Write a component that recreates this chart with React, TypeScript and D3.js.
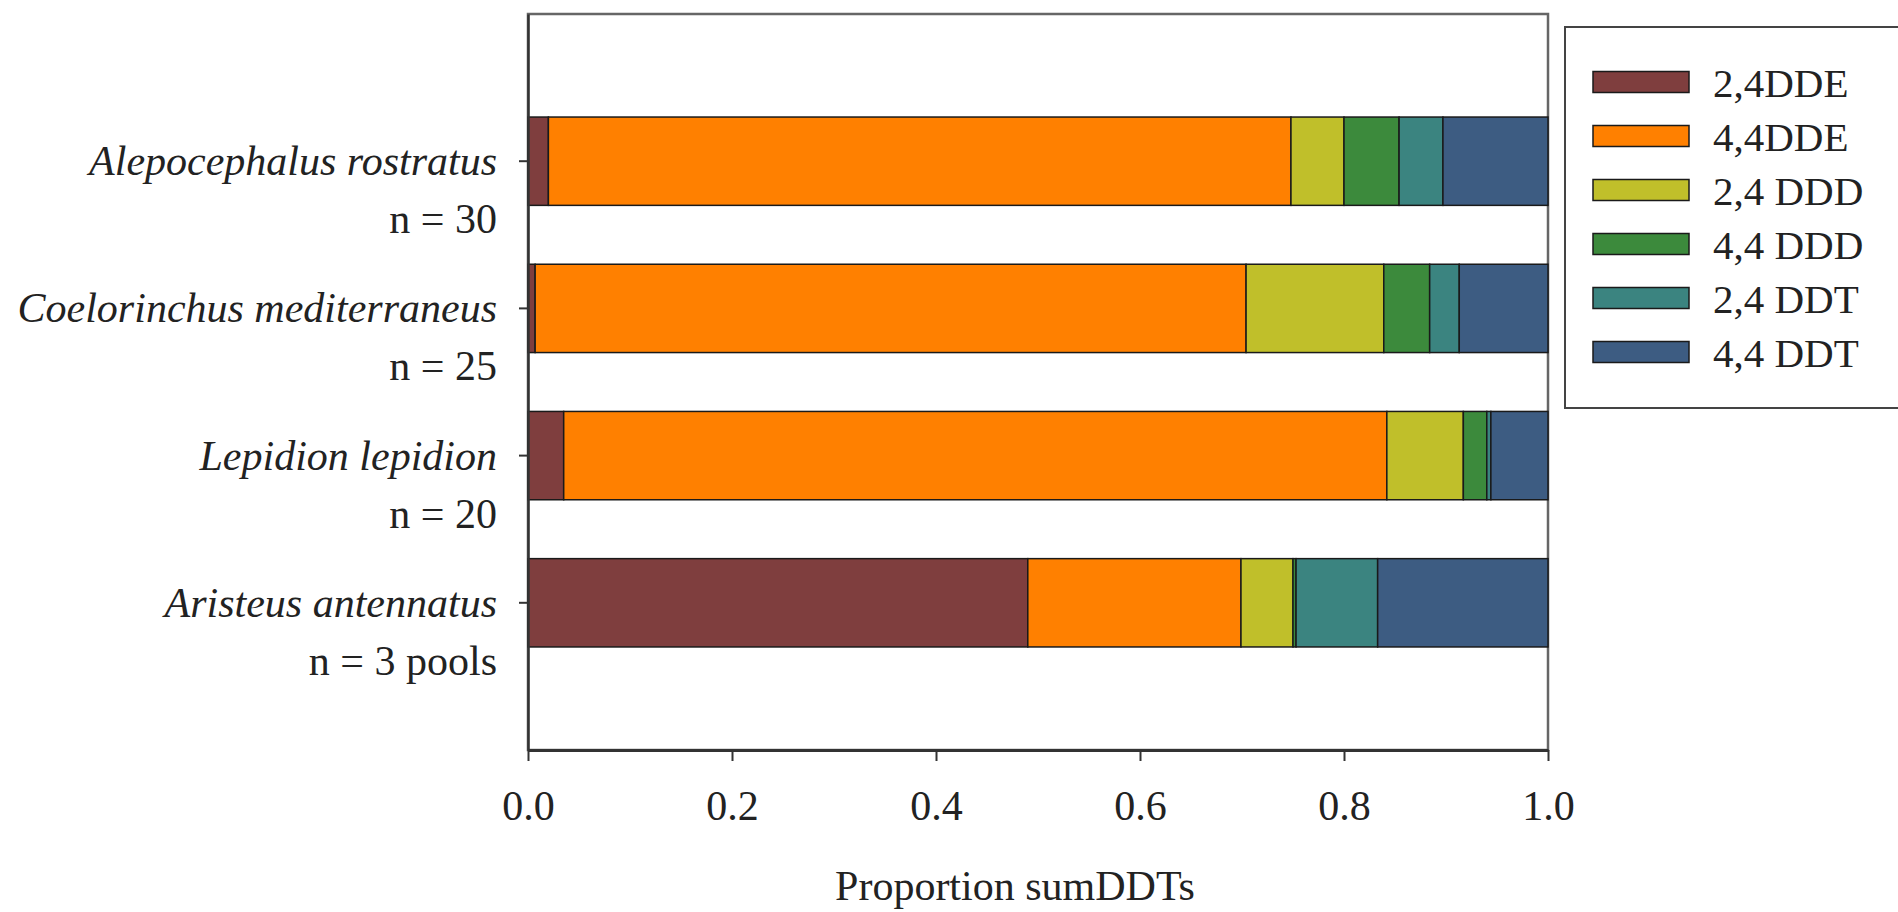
import { useRef, useEffect } from "react"
import * as d3 from "d3"

// species (top to bottom) and sample sizes
const species = [
  "Alepocephalus rostratus",
  "Coelorinchus mediterraneus",
  "Lepidion lepidion",
  "Aristeus antennatus",
]
const sampleSizes = ["n = 30", "n = 25", "n = 20", "n = 3 pools"]

// compounds (stack order, left to right)
const compounds = ["2,4DDE", "4,4DDE", "2,4 DDD", "4,4 DDD", "2,4 DDT", "4,4 DDT"]
const compoundColors = ["#7f3e3e", "#ff8000", "#c0bf2a", "#3c8a3c", "#3b8480", "#3d5c82"]

// proportion of sumDDTs per compound, one array per compound, in species order
const dde24 = [0.02, 0.007, 0.035, 0.49]
const dde44 = [0.728, 0.697, 0.807, 0.209]
const ddd24 = [0.052, 0.135, 0.075, 0.051]
const ddd44 = [0.054, 0.045, 0.023, 0.003]
const ddt24 = [0.043, 0.029, 0.004, 0.08]
const ddt44 = [0.103, 0.087, 0.056, 0.167]

const xTicks = [0, 0.2, 0.4, 0.6, 0.8, 1.0]

const App = () => {
  const svgRef = useRef<SVGSVGElement>(null)

  useEffect(() => {
    document.body.style.margin = "0"
    const svg = d3.select(svgRef.current)
    svg.selectAll("*").remove()

    const font = "'Liberation Serif', 'Times New Roman', serif"
    const ink = "#222"

    const left = 528
    const right = 1548
    const top = 14
    const bottom = 750

    const series = [dde24, dde44, ddd24, ddd44, ddt24, ddt44]
    const rows = species.map((s, i) => {
      const row: any = { species: s }
      compounds.forEach((c, j) => (row[c] = series[j][i]))
      return row
    })
    const stacked = d3.stack().keys(compounds)(rows)

    const x = d3.scaleLinear().domain([0, 1]).range([left, right])
    const y = d3
      .scaleBand()
      .domain(species)
      .range([top, bottom])
      .paddingInner(0.4)
      .paddingOuter(0.7)

    // plot frame
    svg
      .append("rect")
      .attr("x", left)
      .attr("y", top)
      .attr("width", right - left)
      .attr("height", bottom - top)
      .attr("fill", "white")
      .attr("stroke", "#666")
      .attr("stroke-width", 2.5)

    // bars
    svg
      .append("g")
      .selectAll("g")
      .data(stacked)
      .enter()
      .append("g")
      .attr("fill", (_d, i) => compoundColors[i])
      .selectAll("rect")
      .data((d) => d)
      .enter()
      .append("rect")
      .attr("x", (d) => x(d[0]))
      .attr("y", (d: any) => y(d.data.species)!)
      .attr("width", (d) => Math.max(0, x(d[1]) - x(d[0])))
      .attr("height", y.bandwidth())
      .attr("stroke", "#1a1a1a")
      .attr("stroke-width", 1.5)

    // bottom axis
    const xAxis = svg
      .append("g")
      .attr("transform", `translate(0,${bottom})`)
      .call(
        d3
          .axisBottom(x)
          .tickValues(xTicks)
          .tickSize(11)
          .tickSizeOuter(0)
          .tickPadding(29)
          .tickFormat(d3.format(".1f")),
      )
    xAxis.select(".domain").attr("stroke", "#333").attr("stroke-width", 3)
    xAxis.selectAll(".tick line").attr("stroke", "#333").attr("stroke-width", 2)
    xAxis
      .selectAll("text")
      .attr("fill", ink)
      .style("font-family", font)
      .style("font-size", "42px")

    // left axis (ticks only, labels drawn below)
    const yAxis = svg
      .append("g")
      .attr("transform", `translate(${left},0)`)
      .call(d3.axisLeft(y).tickSize(9).tickSizeOuter(0).tickFormat(() => ""))
    yAxis.select(".domain").attr("stroke", "#333").attr("stroke-width", 2.5)
    yAxis.selectAll(".tick line").attr("stroke", "#333").attr("stroke-width", 2)

    const labels = svg.append("g").style("font-family", font).attr("fill", ink)
    species.forEach((s, i) => {
      const cy = y(s)! + y.bandwidth() / 2
      labels
        .append("text")
        .attr("x", left - 31)
        .attr("y", cy + 14)
        .attr("text-anchor", "end")
        .style("font-size", "42px")
        .style("font-style", "italic")
        .text(s)
      labels
        .append("text")
        .attr("x", left - 31)
        .attr("y", cy + 72)
        .attr("text-anchor", "end")
        .style("font-size", "42px")
        .text(sampleSizes[i])
    })

    // axis title
    svg
      .append("text")
      .attr("x", 1015)
      .attr("y", 900)
      .attr("text-anchor", "middle")
      .attr("fill", ink)
      .style("font-family", font)
      .style("font-size", "42px")
      .text("Proportion sumDDTs")

    // legend
    const legend = svg.append("g")
    legend
      .append("rect")
      .attr("x", 1565)
      .attr("y", 27)
      .attr("width", 345)
      .attr("height", 381)
      .attr("fill", "white")
      .attr("stroke", "#444")
      .attr("stroke-width", 2)

    const ly = d3.scalePoint().domain(compounds).range([82, 352])
    compounds.forEach((c, i) => {
      legend
        .append("rect")
        .attr("x", 1593)
        .attr("y", ly(c)! - 10.5)
        .attr("width", 96)
        .attr("height", 21)
        .attr("fill", compoundColors[i])
        .attr("stroke", "#1a1a1a")
        .attr("stroke-width", 1.5)
      legend
        .append("text")
        .attr("x", 1713)
        .attr("y", ly(c)! + 15)
        .attr("fill", ink)
        .style("font-family", font)
        .style("font-size", "41px")
        .text(c)
    })
  }, [])

  return (
    <svg
      ref={svgRef}
      width={1898}
      height={912}
      style={{ display: "block", position: "absolute", left: 0, top: 0, background: "white" }}
    ></svg>
  )
}

export default App
